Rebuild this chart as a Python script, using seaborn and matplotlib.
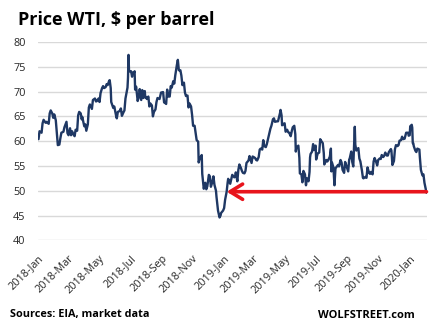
import matplotlib
matplotlib.use("Agg")
import matplotlib.pyplot as plt
import matplotlib.dates as mdates
import pandas as pd
import seaborn as sns

# ---- data ----
dates = [
    "2018-01-02","2018-01-04","2018-01-08","2018-01-10","2018-01-12","2018-01-16","2018-01-18","2018-01-22","2018-01-24","2018-01-26","2018-01-29","2018-01-31",
    "2018-02-02","2018-02-05","2018-02-07","2018-02-09","2018-02-12","2018-02-14","2018-02-16","2018-02-20","2018-02-22","2018-02-26","2018-02-28",
    "2018-03-02","2018-03-05","2018-03-07","2018-03-09","2018-03-12","2018-03-14","2018-03-16","2018-03-19","2018-03-21","2018-03-23","2018-03-26","2018-03-28","2018-03-29",
    "2018-04-02","2018-04-04","2018-04-06","2018-04-09","2018-04-11","2018-04-13","2018-04-17","2018-04-19","2018-04-23","2018-04-25","2018-04-27","2018-04-30",
    "2018-05-02","2018-05-04","2018-05-07","2018-05-09","2018-05-11","2018-05-14","2018-05-16","2018-05-18","2018-05-21","2018-05-22","2018-05-24","2018-05-25","2018-05-29","2018-05-31",
    "2018-06-04","2018-06-05","2018-06-07","2018-06-11","2018-06-13","2018-06-15","2018-06-18","2018-06-20","2018-06-22","2018-06-26","2018-06-27","2018-06-28","2018-06-29",
    "2018-07-02","2018-07-03","2018-07-05","2018-07-06","2018-07-09","2018-07-10","2018-07-11","2018-07-13","2018-07-16","2018-07-18","2018-07-20","2018-07-23","2018-07-25","2018-07-27","2018-07-30","2018-07-31",
    "2018-08-02","2018-08-03","2018-08-06","2018-08-08","2018-08-10","2018-08-13","2018-08-15","2018-08-17","2018-08-20","2018-08-22","2018-08-24","2018-08-28","2018-08-31",
    "2018-09-04","2018-09-06","2018-09-07","2018-09-10","2018-09-12","2018-09-14","2018-09-17","2018-09-19","2018-09-21","2018-09-24","2018-09-26","2018-09-28",
    "2018-10-01","2018-10-03","2018-10-05","2018-10-08","2018-10-10","2018-10-12","2018-10-15","2018-10-17","2018-10-19","2018-10-22","2018-10-24","2018-10-26","2018-10-29","2018-10-31",
    "2018-11-02","2018-11-05","2018-11-07","2018-11-09","2018-11-12","2018-11-13","2018-11-15","2018-11-19","2018-11-20","2018-11-23","2018-11-26","2018-11-28","2018-11-30",
    "2018-12-03","2018-12-05","2018-12-07","2018-12-10","2018-12-12","2018-12-14","2018-12-17","2018-12-18","2018-12-20","2018-12-21","2018-12-24","2018-12-26","2018-12-27","2018-12-31",
    "2019-01-02","2019-01-04","2019-01-07","2019-01-09","2019-01-10","2019-01-14","2019-01-16","2019-01-18","2019-01-22","2019-01-24","2019-01-25","2019-01-28","2019-01-30","2019-02-01",
    "2019-02-04","2019-02-06","2019-02-08","2019-02-11","2019-02-13","2019-02-15","2019-02-19","2019-02-21","2019-02-25","2019-02-27","2019-03-01",
    "2019-03-04","2019-03-06","2019-03-08","2019-03-11","2019-03-13","2019-03-15","2019-03-18","2019-03-20","2019-03-22","2019-03-25","2019-03-27","2019-03-29",
    "2019-04-01","2019-04-03","2019-04-05","2019-04-08","2019-04-10","2019-04-12","2019-04-16","2019-04-18","2019-04-22","2019-04-23","2019-04-25","2019-04-26","2019-04-29",
    "2019-05-01","2019-05-03","2019-05-06","2019-05-08","2019-05-10","2019-05-13","2019-05-15","2019-05-17","2019-05-20","2019-05-22","2019-05-23","2019-05-24","2019-05-28","2019-05-30","2019-05-31",
    "2019-06-03","2019-06-05","2019-06-07","2019-06-10","2019-06-12","2019-06-14","2019-06-17","2019-06-19","2019-06-20","2019-06-21","2019-06-24","2019-06-26","2019-06-28",
    "2019-07-01","2019-07-02","2019-07-05","2019-07-08","2019-07-10","2019-07-11","2019-07-15","2019-07-17","2019-07-18","2019-07-22","2019-07-24","2019-07-26","2019-07-29","2019-07-31",
    "2019-08-01","2019-08-02","2019-08-05","2019-08-07","2019-08-09","2019-08-12","2019-08-14","2019-08-16","2019-08-19","2019-08-21","2019-08-23","2019-08-26","2019-08-28","2019-08-30",
    "2019-09-03","2019-09-05","2019-09-06","2019-09-09","2019-09-11","2019-09-13","2019-09-16","2019-09-17","2019-09-19","2019-09-23","2019-09-25","2019-09-27","2019-09-30",
    "2019-10-02","2019-10-03","2019-10-07","2019-10-09","2019-10-11","2019-10-14","2019-10-16","2019-10-18","2019-10-21","2019-10-23","2019-10-25","2019-10-28","2019-10-30",
    "2019-11-01","2019-11-04","2019-11-06","2019-11-08","2019-11-11","2019-11-13","2019-11-15","2019-11-18","2019-11-20","2019-11-22","2019-11-26","2019-11-27","2019-11-29",
    "2019-12-02","2019-12-04","2019-12-06","2019-12-09","2019-12-11","2019-12-13","2019-12-16","2019-12-18","2019-12-20","2019-12-23","2019-12-26","2019-12-27","2019-12-30","2019-12-31",
    "2020-01-02","2020-01-03","2020-01-06","2020-01-07","2020-01-08","2020-01-09","2020-01-10","2020-01-13","2020-01-15","2020-01-17","2020-01-21","2020-01-22","2020-01-24","2020-01-27","2020-01-29","2020-01-31",
    "2020-02-03","2020-02-04",
]
prices = [
    60.4,62.0,61.7,63.6,64.3,63.7,63.9,63.5,65.6,66.2,65.6,64.7,
    65.4,64.2,61.8,59.2,59.3,60.6,61.7,61.9,62.8,63.9,61.6,
    61.2,62.6,61.2,62.0,61.3,61.0,62.3,62.1,65.2,65.9,65.6,64.4,64.9,
    63.0,63.4,62.1,63.4,66.8,67.4,66.5,68.3,68.6,68.0,68.1,68.6,
    67.9,69.7,70.7,71.1,70.7,70.9,71.5,71.3,72.2,72.3,70.7,67.9,66.7,67.0,
    64.9,64.6,65.9,66.1,66.6,65.1,65.8,66.2,68.6,70.8,72.8,77.4,74.2,
    74.0,74.1,73.0,73.8,73.9,74.1,70.4,71.0,68.1,68.8,70.5,68.3,70.3,68.7,70.1,68.8,
    68.9,68.5,69.0,67.0,67.6,67.2,65.0,65.9,66.4,67.9,68.7,68.5,69.8,
    69.9,67.8,67.8,67.5,70.4,69.0,69.0,71.1,70.8,72.1,71.6,73.3,
    75.3,76.4,74.3,74.3,73.2,71.3,71.8,69.8,69.1,69.2,66.8,67.6,67.0,65.3,
    63.1,63.1,61.7,60.2,59.9,55.7,56.5,57.2,53.4,50.4,51.6,50.3,50.9,
    53.2,52.9,50.8,51.8,52.9,51.2,50.0,48.8,47.0,46.0,44.6,45.0,45.5,46.0,
    46.5,48.2,49.8,51.7,52.4,51.4,52.3,53.2,52.7,53.1,53.7,51.9,54.2,55.3,
    54.6,54.0,53.6,53.5,54.0,55.6,56.1,57.0,55.6,56.9,56.8,
    56.6,56.2,56.1,56.8,58.3,58.5,58.3,60.2,59.0,58.8,59.4,60.3,
    61.6,62.5,63.1,64.4,64.6,63.9,64.0,64.0,65.7,66.3,65.2,63.2,63.5,
    63.6,61.9,62.3,61.8,61.7,61.0,62.0,62.8,63.1,61.4,57.9,58.6,59.1,56.6,53.5,
    53.3,51.7,54.0,53.3,51.1,52.5,51.9,53.8,56.7,57.4,57.9,59.4,58.2,
    59.1,56.3,57.5,57.7,60.4,60.2,59.6,57.6,55.3,56.2,55.9,56.2,56.9,58.5,
    53.9,55.7,54.7,51.1,54.5,54.9,55.2,54.9,56.2,55.7,54.2,53.6,55.8,55.2,
    53.9,56.3,56.5,57.9,55.8,54.9,62.9,59.3,58.1,58.6,56.5,55.9,54.1,
    52.6,52.5,52.8,52.6,54.7,53.6,53.4,53.8,53.3,55.9,56.6,55.8,55.1,
    56.2,56.5,56.4,57.2,56.8,57.1,57.7,57.1,57.1,57.8,58.4,58.1,55.2,
    56.0,58.4,59.2,59.0,59.2,60.1,60.2,60.9,60.4,60.5,61.7,61.7,61.7,61.1,
    61.2,63.0,63.3,62.7,59.6,59.6,59.0,58.1,57.8,58.5,58.3,56.7,54.2,53.1,53.3,51.6,
    50.1,49.6,
]
tick_dates = ["2018-01-01","2018-03-01","2018-05-01","2018-07-01","2018-09-01","2018-11-01",
              "2019-01-01","2019-03-01","2019-05-01","2019-07-01","2019-09-01","2019-11-01","2020-01-01"]
y_ticks = [40, 45, 50, 55, 60, 65, 70, 75, 80]
arrow_level = 49.8
arrow_from = "2020-02-04"
arrow_to = "2019-01-07"
title = "Price WTI, $ per barrel"
source = "Sources: EIA, market data"
brand = "WOLFSTREET.com"

df = pd.DataFrame({"date": pd.to_datetime(dates), "price": prices})

sns.set_style("white")
plt.rcParams["font.family"] = ["Open Sans", "DejaVu Sans"]

fig = plt.figure(figsize=(4.32, 3.28), dpi=100)
ax = fig.add_axes([38/432, 1-240.3/328, 389/432, 198.3/328])

sns.lineplot(data=df, x="date", y="price", ax=ax, color="#1f3864", linewidth=1.7, zorder=3)

ax.set_ylim(40, 80)
ax.set_yticks(y_ticks)
ax.set_xlim(pd.Timestamp("2018-01-01"), pd.Timestamp("2020-02-05"))
ax.set_xticks(pd.to_datetime(tick_dates))
ax.xaxis.set_major_formatter(mdates.DateFormatter("%Y-%b"))
ax.grid(axis="y", color="#d9d9d9", linewidth=1.0)
ax.grid(axis="x", visible=False)
for s in ax.spines.values():
    s.set_visible(False)
ax.set_xlabel("")
ax.set_ylabel("")
ax.tick_params(axis="y", length=0, pad=9, labelsize=7.8, labelcolor="#262626")
ax.tick_params(axis="x", length=0, pad=9, labelsize=7.8, labelcolor="#262626")
for lab in ax.get_xticklabels():
    lab.set_rotation(45)
    lab.set_ha("right")
    lab.set_rotation_mode("anchor")

ax.annotate("", xy=(pd.Timestamp(arrow_to), arrow_level), xytext=(pd.Timestamp(arrow_from), arrow_level),
            arrowprops=dict(arrowstyle="->,head_length=0.9,head_width=0.55", color="#e8141c",
                            lw=2.6, shrinkA=0, shrinkB=0), zorder=4)

fig.text(18/432, 1-20/328, title, fontsize=13, fontweight="bold", color="#000000", va="center", ha="left")
fig.text(10/432, 1-315/328, source, fontsize=7.8, fontweight="bold", color="#000000", va="center", ha="left")
fig.text(415/432, 1-315/328, brand, fontsize=8, fontweight="bold", color="#000000", va="center", ha="right")

fig.savefig("out.png", dpi=100)
